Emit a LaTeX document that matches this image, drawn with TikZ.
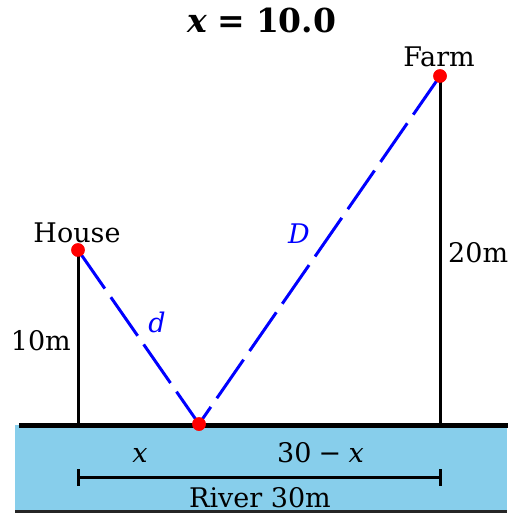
\documentclass[tikz,border=0pt]{standalone}
\usepackage{fontspec}
\setmainfont{DejaVu Serif}
\definecolor{riverblue}{RGB}{135,206,235}
\tikzset{
  dot/.style={circle,fill=red,inner sep=0pt,minimum size=13.5pt},
  lbl/.style={font=\fontsize{27}{32}\selectfont,inner sep=0pt,anchor=base},
  dist/.style={blue,line width=3pt,dash pattern=on 47pt off 10.5pt},
  post/.style={black,line width=3pt},
}
\begin{document}
\begin{tikzpicture}[x=1pt,y=-1pt]
\useasboundingbox (0,0) rectangle (525,515);
% river
\fill[riverblue] (15,425) rectangle (507,511);
\draw[line width=5pt] (19,425) -- (508,425);
\draw[line width=3.5pt,black!85] (15,511.5) -- (507,511.5);
% points
\coordinate (hb) at (78,425);
\coordinate (fb) at (440,425);
\node[dot] (house) at (78,250) {};
\node[dot] (farm) at (440,76) {};
\node[dot] (pt) at (199,424) {};
% posts
\draw[post] (house.center) -- (hb);
\draw[post] (farm.center) -- (fb);
% distances
\draw[dist] (house.center) -- (pt.center);
\draw[dist] (farm.center) -- (pt.center);
% redraw dots on top
\node[dot] at (house) {};
\node[dot] at (farm) {};
\node[dot] at (pt) {};
% scale bar
\coordinate (sl) at (78,477);
\coordinate (sr) at (440,477);
\draw[line width=3pt] (sl) -- (sr);
\draw[line width=3pt] ([yshift=-8.5pt]sl) -- ([yshift=8.5pt]sl);
\draw[line width=3pt] ([yshift=-8.5pt]sr) -- ([yshift=8.5pt]sr);
% labels
\node[lbl] (lhouse) at (77,242) {House};
\node[lbl] (lfarm) at (439,66) {Farm};
\node[lbl,anchor=base east] (l10) at (71,350) {10m};
\node[lbl,anchor=base west] (l20) at (448,262) {20m};
\node[lbl,blue] (ld) at (157,332) {\itshape d};
\node[lbl,blue] (lD) at (299,243) {\itshape D};
\node[lbl] (lx) at (140,462) {\itshape x};
\node[lbl] (lrx) at (320.5,462) {30\hspace{0.27em}−\hspace{0.27em}\itshape x};
\node[lbl] (lriver) at (260,507) {River 30m};
\node[inner sep=0pt,anchor=base,font=\fontsize{33}{40}\selectfont\bfseries] (title) at (262,32) {\itshape x\upshape\hspace{0.32em}=\hspace{0.32em}10.0};
\end{tikzpicture}
\end{document}
